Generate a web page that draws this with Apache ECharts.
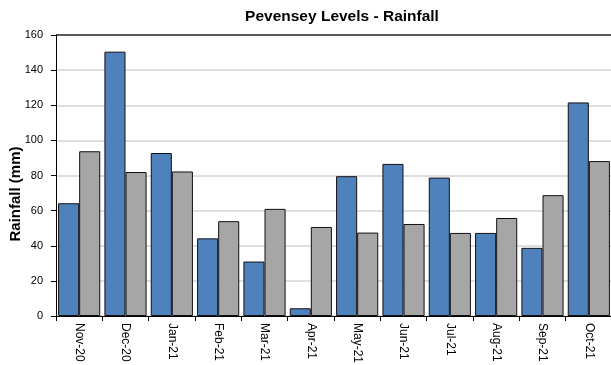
<!DOCTYPE html>
<html>
<head>
<meta charset="utf-8">
<script src="https://cdn.jsdelivr.net/npm/echarts@6/dist/echarts.min.js"></script>
<style>
  html, body { margin: 0; padding: 0; background: #fff; }
  #chart { width: 611px; height: 365px; }
</style>
</head>
<body>
<div id="chart"></div>
<script>
var months = ['Nov-20', 'Dec-20', 'Jan-21', 'Feb-21', 'Mar-21', 'Apr-21',
  'May-21', 'Jun-21', 'Jul-21', 'Aug-21', 'Sep-21', 'Oct-21'];
var rainfall = [64.2, 150.5, 92.8, 44.2, 31, 4.4, 79.6, 86.6, 78.8, 47.3, 38.8, 121.6];
var average = [93.8, 82, 82.3, 54, 61, 50.7, 47.5, 52.4, 47.3, 55.8, 68.8, 88.2];
var yTicks = [0, 20, 40, 60, 80, 100, 120, 140, 160];

var chart = echarts.init(document.getElementById('chart'));

var option = {
  animation: false,
  title: {
    text: 'Pevensey Levels - Rainfall',
    left: 337,
    textAlign: 'center',
    top: 4,
    textStyle: { fontFamily: 'Liberation Sans', fontSize: 15.5, fontWeight: 'bold', color: '#000' }
  },
  // y axis title sits lower than the plot middle, as in the original
  graphic: [{
    type: 'text',
    x: 16,
    y: 194,
    rotation: Math.PI / 2,
    style: {
      text: 'Rainfall (mm)',
      fontFamily: 'Liberation Sans',
      fontSize: 15,
      fontWeight: 'bold',
      fill: '#000',
      align: 'center',
      verticalAlign: 'middle'
    }
  }],
  grid: { left: 56, right: -1, top: 35, bottom: 49, outerBoundsMode: 'none' },
  xAxis: {
    type: 'category',
    data: months,
    axisLine: { lineStyle: { color: '#000', width: 1 } },
    axisTick: { show: true, length: 5, lineStyle: { color: '#000' } },
    axisLabel: {
      rotate: -90,
      margin: 7,
      fontFamily: 'Liberation Sans',
      fontSize: 12,
      color: '#000'
    }
  },
  yAxis: {
    type: 'value',
    min: yTicks[0],
    max: yTicks[yTicks.length - 1],
    interval: 20,
    axisLine: { show: true, lineStyle: { color: '#000', width: 1 } },
    axisTick: { show: true, length: 5, lineStyle: { color: '#000' } },
    axisLabel: { fontFamily: 'Liberation Sans', fontSize: 11, color: '#000', margin: 13 },
    splitLine: {
      lineStyle: {
        color: ['#d4d4d4', '#d4d4d4', '#d4d4d4', '#d4d4d4', '#d4d4d4',
          '#d4d4d4', '#d4d4d4', '#d4d4d4', '#222'],
        width: 1.5
      }
    }
  },
  series: [
    {
      name: 'Rainfall',
      type: 'bar',
      data: rainfall,
      barGap: '0%',
      barCategoryGap: '9%',
      itemStyle: { color: '#4f81bd', borderColor: '#111', borderWidth: 1 }
    },
    {
      name: 'Average',
      type: 'bar',
      data: average,
      itemStyle: { color: '#a6a6a6', borderColor: '#111', borderWidth: 1 }
    }
  ]
};

chart.setOption(option);
</script>
</body>
</html>
